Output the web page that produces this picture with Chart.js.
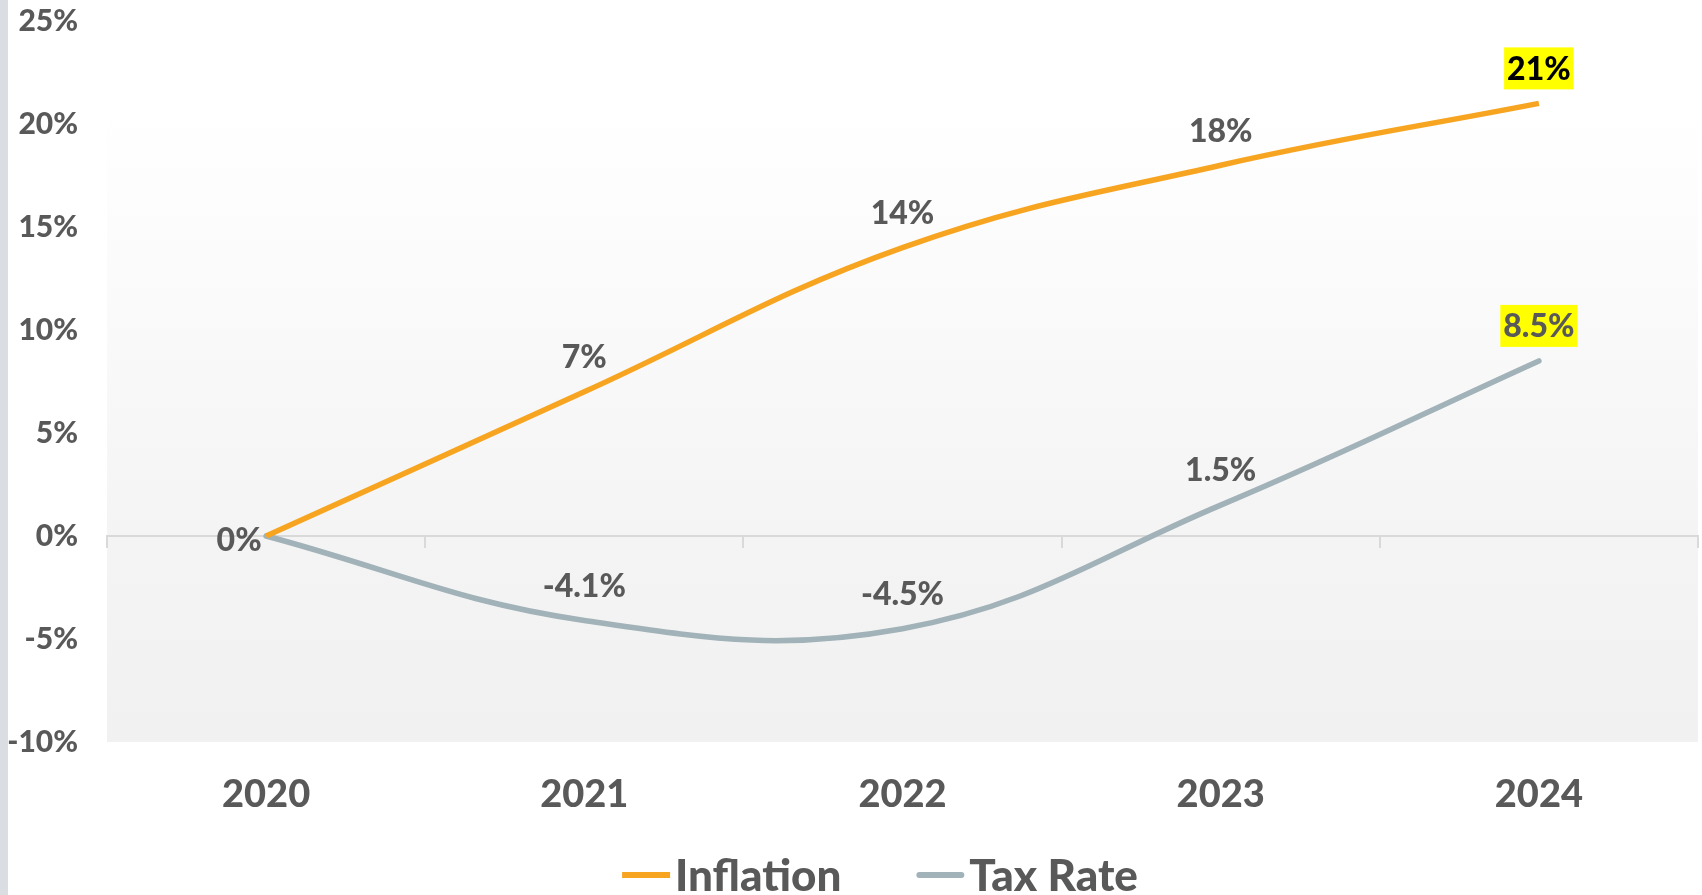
<!DOCTYPE html>
<html>
<head>
<meta charset="utf-8">
<script src="https://cdn.jsdelivr.net/npm/chart.js@4.4.1/dist/chart.umd.min.js"></script>
<style>
  html, body { margin: 0; padding: 0; background: #fff; }
  #wrap { position: relative; width: 1702px; height: 895px; overflow: hidden; }
  #edge { position: absolute; left: 0; top: 0; width: 8px; height: 895px; background: #dadde1; }
  canvas { position: absolute; left: 0; top: 0; }
</style>
</head>
<body>
<div id="wrap"><canvas id="chart" width="1702" height="895"></canvas><div id="edge"></div></div>
<script>
// Inflation vs tax rate, cumulative change since 2020 (percent)
const YEARS = ["2020", "2021", "2022", "2023", "2024"];
const INFLATION = [0, 7, 14, 18, 21];
const TAX_RATE = [0, -4.1, -4.5, 1.5, 8.5];
const Y_MIN = -10;
const Y_MAX = 25;
const Y_STEP = 5;

const INK = "#595959";
const ORANGE = "#f7a521";
const SLATE = "#a1b2b8";
const GRID = "#d9d9d9";
const FONT = 'Lato, "Open Sans", sans-serif';
const HEAVY = 900;

const pct = v => `${v}%`;

// soft white -> light grey fill behind the plot, like the original
const plotFill = {
  id: "plotFill",
  beforeDraw(chart) {
    const { ctx, chartArea: a } = chart;
    const g = ctx.createLinearGradient(0, a.top, 0, a.bottom);
    g.addColorStop(0, "#ffffff");
    g.addColorStop(0.12, "#ffffff");
    g.addColorStop(0.72, "#f4f4f4");
    g.addColorStop(1, "#f1f1f1");
    ctx.save();
    ctx.fillStyle = g;
    ctx.fillRect(a.left, a.top, a.right - a.left, a.bottom - a.top);
    ctx.restore();
  },
};

// value labels above each point; the last year gets a yellow highlight
const valueLabels = {
  id: "valueLabels",
  afterDatasetsDraw(chart) {
    const ctx = chart.ctx;
    ctx.save();
    ctx.font = `${HEAVY} 32px ${FONT}`;
    ctx.textAlign = "center";
    ctx.textBaseline = "middle";
    chart.data.datasets.forEach((ds, di) => {
      const pts = chart.getDatasetMeta(di).data;
      pts.forEach((pt, i) => {
        const v = ds.data[i];
        if (v === 0 && di > 0) return; // both series start at 0%, one label is enough
        const text = pct(v);
        let x = pt.x, y = pt.y - 35;
        if (v === 0) { x = pt.x - 27; y = pt.y + 4; }
        const last = i === pts.length - 1;
        if (last) {
          const w = ctx.measureText(text).width + 6;
          ctx.fillStyle = "#ffff00";
          ctx.fillRect(x - w / 2, y - 21, w, 42);
        }
        ctx.fillStyle = last && di === 0 ? "#000000" : INK;
        ctx.fillText(text, x, y + 1);
      });
    });
    ctx.restore();
  },
};

// legend drawn by hand so the line swatch sits tight against its text
const lineLegend = {
  id: "lineLegend",
  afterDraw(chart) {
    const ctx = chart.ctx;
    const swatch = 48, gap = 5, between = 75, cy = 875, centerX = 880;
    ctx.save();
    ctx.font = `${HEAVY} 44px ${FONT}`;
    ctx.textBaseline = "middle";
    const items = chart.data.datasets.map(ds => ({ ds, w: ctx.measureText(ds.label).width }));
    const total = items.reduce((s, it) => s + swatch + gap + it.w, 0) + between * (items.length - 1);
    let x = centerX - total / 2;
    items.forEach(({ ds, w }) => {
      ctx.strokeStyle = ds.borderColor;
      ctx.lineWidth = 6;
      ctx.lineCap = ds.borderCapStyle;
      const inset = ds.borderCapStyle === "round" ? 3 : 0;
      ctx.beginPath();
      ctx.moveTo(x + inset, cy);
      ctx.lineTo(x + swatch - inset, cy);
      ctx.stroke();
      ctx.fillStyle = INK;
      ctx.fillText(ds.label, x + swatch + gap, cy + 2);
      x += swatch + gap + w + between;
    });
    ctx.restore();
  },
};

new Chart(document.getElementById("chart"), {
  type: "line",
  data: {
    labels: YEARS,
    datasets: [
      {
        label: "Inflation",
        data: INFLATION,
        borderColor: ORANGE,
        borderWidth: 5.5,
        borderCapStyle: "butt",
        tension: 0.4,
        pointRadius: 0,
      },
      {
        label: "Tax Rate",
        data: TAX_RATE,
        borderColor: SLATE,
        borderWidth: 5.5,
        borderCapStyle: "round",
        tension: 0.4,
        pointRadius: 0,
      },
    ],
  },
  options: {
    responsive: false,
    animation: false,
    devicePixelRatio: 1,
    layout: { padding: { left: 0, top: 21, right: 4, bottom: 0 } },
    plugins: { legend: { display: false }, tooltip: { enabled: false } },
    scales: {
      x: {
        offset: true,
        grid: { display: false, drawTicks: false },
        border: { display: false },
        ticks: { color: INK, font: { family: FONT, size: 38, weight: HEAVY }, padding: 30 },
        afterFit: s => { s.height = 153; },
      },
      // category axis pinned at 0%: draws the zero line and its tick marks
      x0: {
        type: "category",
        position: { y: 0 },
        offset: true,
        ticks: { display: false },
        grid: { offset: true, drawOnChartArea: false, drawTicks: true, tickLength: 11, color: GRID, lineWidth: 2 },
        border: { display: true, color: GRID, width: 2 },
      },
      y: {
        min: Y_MIN,
        max: Y_MAX,
        grid: { display: false, drawTicks: false },
        border: { display: false },
        ticks: {
          stepSize: Y_STEP,
          padding: 29,
          color: INK,
          font: { family: FONT, size: 30, weight: HEAVY },
          callback: v => pct(v),
        },
        afterFit: s => { s.width = 107; s.paddingTop = 0; s.paddingBottom = 0; },
      },
    },
  },
  plugins: [plotFill, valueLabels, lineLegend],
});
</script>
</body>
</html>
